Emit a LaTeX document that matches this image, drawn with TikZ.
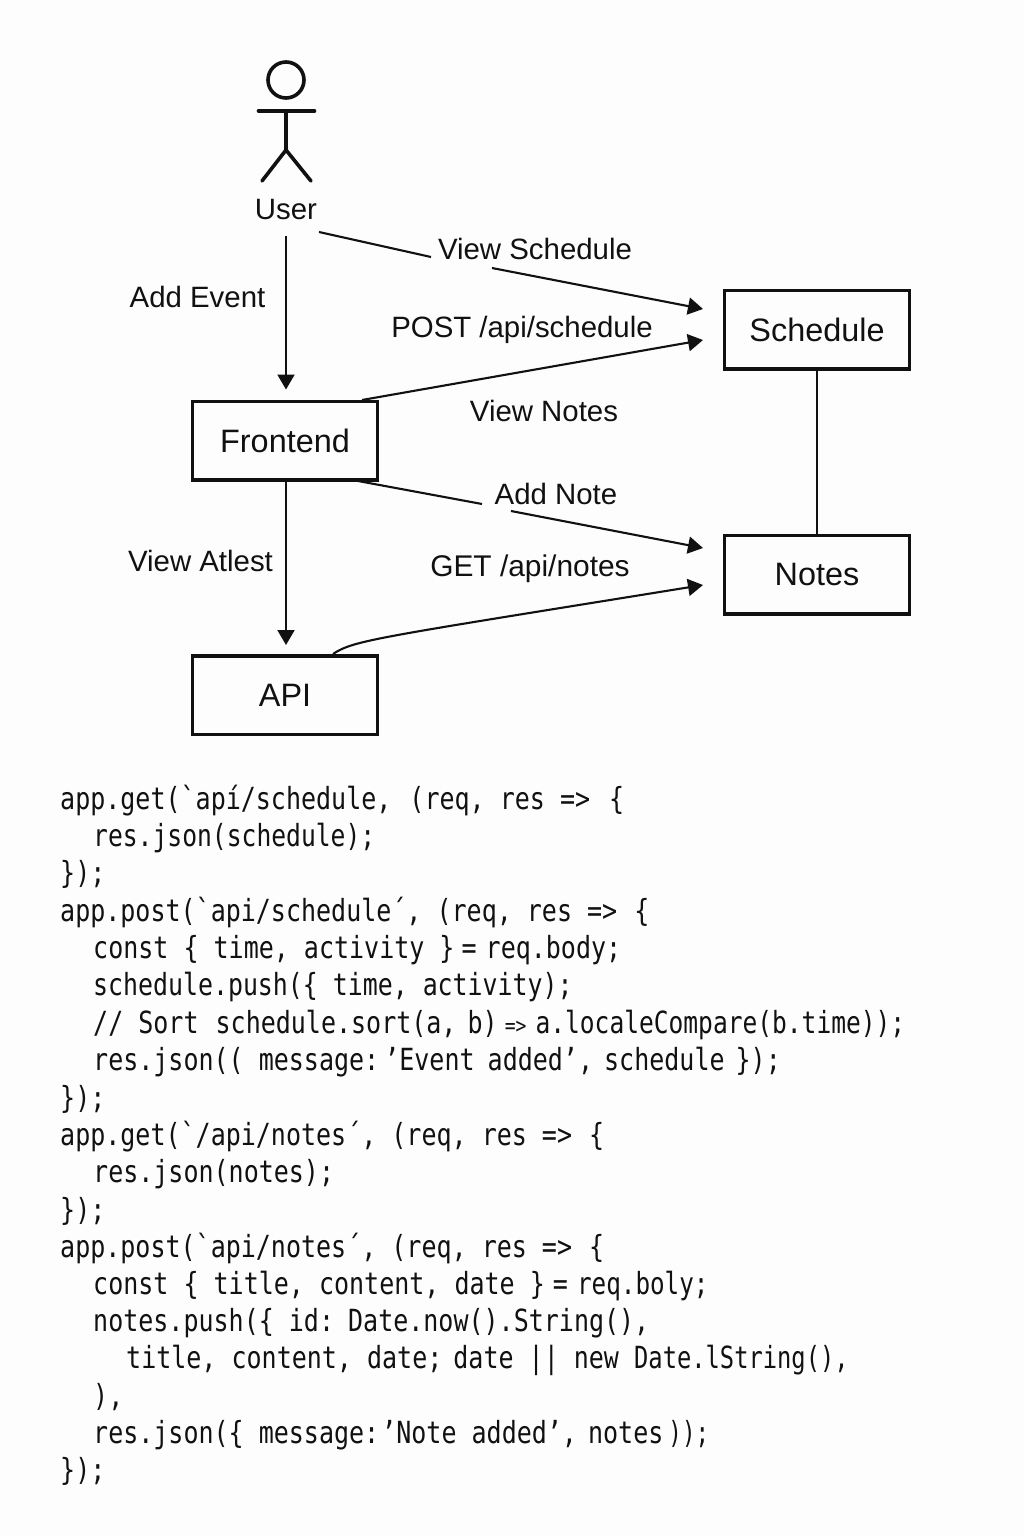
\documentclass[tikz,border=0pt]{standalone}
\usepackage{fontspec}
\setmainfont{Liberation Sans}
\newfontfamily\codefont[FakeStretch=0.82]{DejaVu Sans Mono}
\usetikzlibrary{arrows.meta,calc}
\definecolor{paper}{HTML}{FDFDFD}
\definecolor{ink}{HTML}{111111}
\newcommand\kn[1]{\hspace*{#1pt}}
\newcommand\sx[2]{\scalebox{#1}[1]{#2}}
\newcommand\smallarrow{{\fontsize{22}{24}\selectfont =>}}
\tikzset{
  boxnode/.style={draw=ink,line width=3.5pt,minimum width=185pt,minimum height=78.5pt,inner sep=0pt,font=\fontsize{32.4}{36}\selectfont,text=ink},
  lbl/.style={inner sep=0pt,anchor=base,font=\fontsize{29.4}{32}\selectfont,text=ink},
  conn/.style={draw=ink,line width=2.1pt,-{Triangle[length=15pt,width=17pt]}},
  plain/.style={draw=ink,line width=2.6pt},
  actorline/.style={draw=ink,line width=3.6pt,line cap=round},
  code/.style={inner sep=0pt,anchor=base west,font=\codefont\fontsize{30.5}{34}\selectfont,text=ink}
}
\begin{document}
\begin{tikzpicture}[x=1pt,y=-1pt]
\path[fill=paper] (0,0) rectangle (1024,1536);
\useasboundingbox (0,0) rectangle (1024,1536);
% actor
\draw[actorline] (286,80) circle (18);
\draw[actorline] (258.5,111) -- (314.5,111);
\draw[actorline] (286,111) -- (286,150);
\draw[actorline] (262,181) -- (286,150) -- (311,181);
\node[lbl] (user) at (286,219) {User};
% boxes
\node[boxnode] (frontend) at (285,440.5) {Frontend};
\node[boxnode] (api) at (285,695) {API};
\node[boxnode] (schedule) at (817,329.5) {Schedule};
\node[boxnode] (notes) at (817,574.5) {Notes};
% labels
\node[lbl] (addevent) at (197.5,307) {Add Event};
\node[lbl] (viewsched) at (535,259) {View Schedule};
\node[lbl] (postsched) at (522,337) {POST /api/schedule};
\node[lbl] (viewnotes) at (544,421) {View Notes};
\node[lbl] (addnote) at (556,504) {Add Note};
\node[lbl] (viewatlest) at (200.5,571) {View Atlest};
\node[lbl,font=\fontsize{29.9}{32}\selectfont] (getnotes) at (530,576) {GET /api/notes};
% connector ends
\coordinate (uOut) at (286,236);
\coordinate (uSide) at (319,232);
\coordinate (vsA) at (431,257);
\coordinate (vsB) at (492,268);
\coordinate (sIn1) at (703,309);
\coordinate (sIn2) at (703,340);
\coordinate (fOut1) at (362,400);
\coordinate (fOut2) at (358,481);
\coordinate (anA) at (482,504);
\coordinate (anB) at (511,511);
\coordinate (nIn1) at (703,548);
\coordinate (nIn2) at (703,585);
\coordinate (aOut) at (333,654);
\coordinate (aBend) at (375,638);
% connectors
\draw[conn] (uOut) -- ($(frontend.north -| uOut)+(0,-10)$);
\draw[conn] (uSide) -- (vsA) (vsB) -- (sIn1);
\draw[conn] (fOut1) -- (sIn2);
\draw[conn] (fOut2) -- (anA) (anB) -- (nIn1);
\draw[conn] (frontend.south -| uOut) -- ($(api.north -| uOut)+(0,-9)$);
\draw[conn] (aOut) .. controls ($(aOut)!0.5!(aBend)+(0,-6)$) and (aBend) .. (nIn2);
\draw[plain] (schedule.south) -- (notes.north);
% code
\node[code] (c1) at (60,809) {app.get(`apí/schedule,\kn{3} (req, res =>\kn{4} \{};
\node[code] (c2) at (93,846) {\sx{0.986}{res.json(schedule);}};
\node[code] (c3) at (60,883) {\});};
\node[code] (c4) at (60,921) {app.post(`api/schedule´, (req, res =>\kn{2} \{};
\node[code] (c5) at (93,958) {const \{ time, activity \}\kn{-8} =\kn{-6} req.body;};
\node[code] (c6) at (93,995) {\sx{0.995}{schedule.push(\{ time, activity);}};
\node[code] (c7) at (93,1033) {// Sort\kn{2} schedule.sort(a,\kn{-4} b)\kn{-8} \smallarrow\kn{-6} \sx{0.982}{a.localeCompare(b.time));}};
\node[code] (c8) at (93,1070) {res.json(( message:\kn{-10} ’Event\kn{-2} added’,\kn{-4} schedule\kn{-4} \});};
\node[code] (c9) at (60,1108) {\});};
\node[code] (c10) at (60,1145) {app.get(`/api/notes´, (req, res =>\kn{2} \{};
\node[code] (c11) at (93,1182) {res.json(notes);};
\node[code] (c12) at (60,1220) {\});};
\node[code] (c13) at (60,1257) {app.post(`api/notes´, (req, res =>\kn{2} \{};
\node[code] (c14) at (93,1294) {const \{ title, content, date \}\kn{-7} =\kn{-6} \sx{0.97}{req.boly;}};
\node[code] (c15) at (93,1331) {notes.push(\{ id:\kn{-1} Date.now().String(),};
\node[code] (c16) at (126,1368) {title, content, date;\kn{-4} date || new \sx{0.95}{Date.lString(),}};
\node[code] (c17) at (93,1406) {),};
\node[code] (c18) at (93,1443) {res.json(\{ message:\kn{-13} ’Note added’,\kn{-4} notes\kn{-10} \sx{0.9}{));}};
\node[code] (c19) at (60,1480) {\});};
\end{tikzpicture}
\end{document}
